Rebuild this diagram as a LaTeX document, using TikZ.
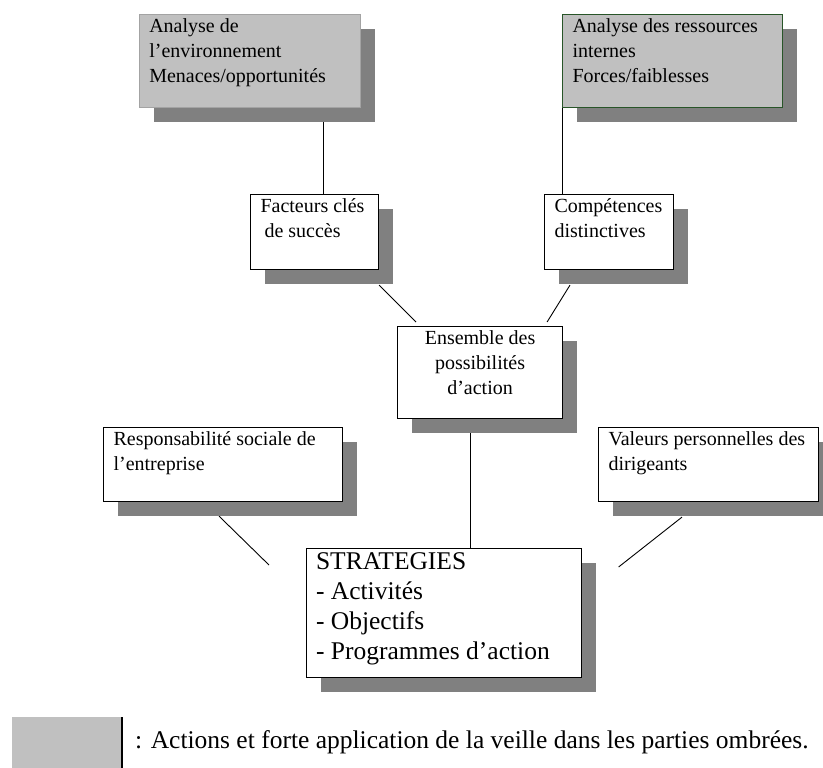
\documentclass[tikz,border=0pt]{standalone}
\usepackage{fontspec}
\setmainfont{Liberation Serif}
\usetikzlibrary{shadows,backgrounds}
\definecolor{panelgray}{RGB}{192,192,192}
\definecolor{shadowgray}{RGB}{128,128,128}
\definecolor{framegreen}{RGB}{40,85,40}

\begin{document}
\begin{tikzpicture}[x=1pt,y=-1pt,
  panel/.style={draw, line width=1.1pt, fill=white, anchor=north west,
    inner xsep=10pt, inner ysep=4pt, font=\fontsize{20}{25}\selectfont,
    drop shadow={shadow xshift=14.5pt, shadow yshift=-14.5pt, fill=shadowgray, opacity=1}},
  shaded/.style={panel, fill=panelgray},
  link/.style={line width=0.9pt}]
  \useasboundingbox (0,0) rectangle (823,768);
  % Analyses
  \node[shaded, draw=panelgray!85!black, line width=0.6pt] (env) at (139,14)
    {\parbox[t][85pt][t]{201pt}{\raggedright Analyse de\\ l’environnement\\ Menaces/opportunités}};
  \node[shaded, draw=framegreen, line width=1pt] (res) at (562,14)
    {\parbox[t][85pt][t]{200pt}{\raggedright Analyse des ressources\\ internes\\ Forces/faiblesses}};
  % Middle boxes
  \node[panel] (fcs) at (250,194)
    {\parbox[t][67pt][t]{108pt}{\raggedright Facteurs clés\\ \hspace*{4pt}de succès}};
  \node[panel] (comp) at (544,194)
    {\parbox[t][67pt][t]{109pt}{\raggedright Compétences\\ distinctives}};
  \node[panel] (ens) at (397,326)
    {\parbox[t][84pt][t]{145pt}{\centering Ensemble des\\ possibilités\\ d’action}};
  \node[panel] (rsp) at (103,427)
    {\parbox[t][66pt][t]{219pt}{\raggedright Responsabilité sociale de\\ l’entreprise}};
  \node[panel] (val) at (598,427)
    {\parbox[t][66pt][t]{200pt}{\raggedright Valeurs personnelles des\\ dirigeants}};
  \node[panel, font=\fontsize{25.5}{30}\selectfont] (strat) at (305.5,548)
    {\parbox[t][121pt][t]{255pt}{\raggedright STRATEGIES\\ - Activités\\ - Objectifs\\ - Programmes d’action}};
  % Legend
  \fill[panelgray] (11.5,717) rectangle (122,768);
  \draw[line width=1.1pt] (122,717) -- (122,768);
  \node[anchor=base west, inner sep=0pt, font=\fontsize{25.5}{30}\selectfont] (legend) at (135,748)
    {: Actions et forte application de la veille dans les parties ombrées.};
  % Connectors
  \begin{scope}[on background layer]
    \draw[link] ([xshift=9pt]fcs.north) -- ([xshift=9pt]fcs.north |- env.south);
    \draw[link] (res.south west) -- (res.south west |- comp.north);
    \draw[link] ([yshift=-15pt]fcs.south east) -- ([shift={(19pt,4pt)}]ens.north west);
    \draw[link] ([shift={(26pt,-15pt)}]comp.south west) -- ([shift={(-16pt,4pt)}]ens.north east);
    \draw[link] ([xshift=-9.5pt]ens.south) -- ([xshift=-9.5pt]ens.south |- strat.north);
    \draw[link] ([shift={(116pt,-14pt)}]rsp.south west) -- ([shift={(-36.5pt,-17pt)}]strat.north west);
    \draw[link] ([shift={(84pt,-15pt)}]val.south west) -- ([shift={(37pt,-19pt)}]strat.north east);
  \end{scope}
\end{tikzpicture}
\end{document}
